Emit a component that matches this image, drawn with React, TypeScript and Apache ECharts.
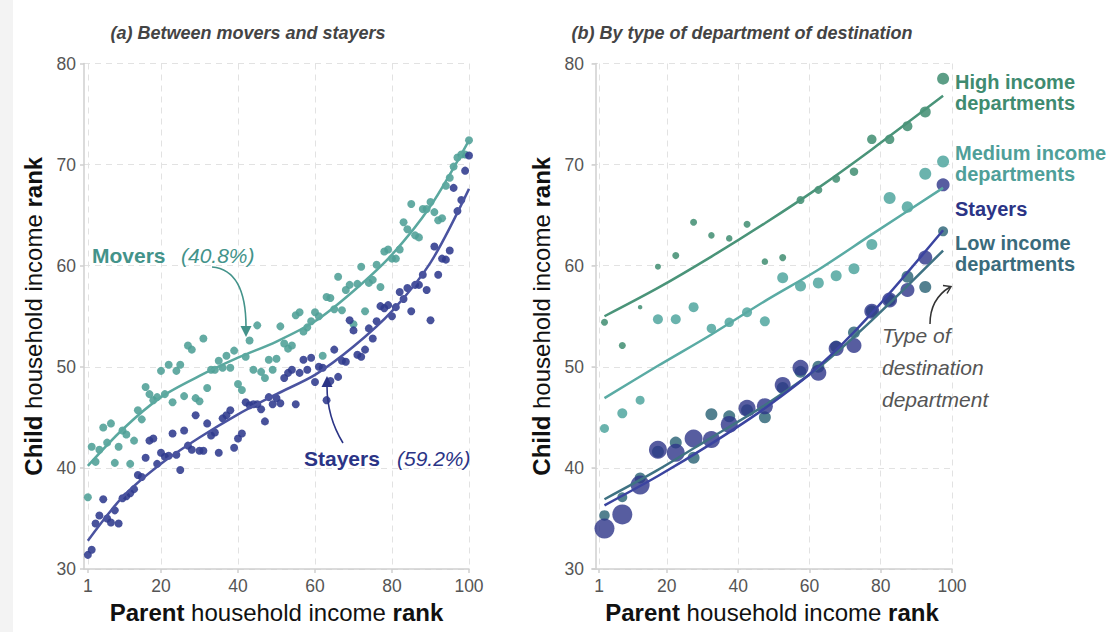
import React, { useEffect, useRef } from "react";
import * as echarts from "echarts";

// ---------- data ----------
const ranks = Array.from({ length: 100 }, (_, i) => i + 1);

const moversRank = [
  37.1, 42.1, 40.6, 41.8, 44.0, 42.5, 44.4, 40.5, 42.1, 43.7,
  43.3, 40.4, 42.7, 45.7, 44.8, 48.0, 47.3, 46.7, 47.0, 49.6,
  47.3, 50.2, 46.5, 49.6, 50.2, 47.1, 52.1, 51.7, 46.9, 46.6,
  52.8, 47.9, 49.7, 49.7, 50.6, 49.9, 51.1, 49.9, 51.6, 48.3,
  47.7, 51.0, 52.6, 49.7, 54.1, 49.5, 48.9, 50.7, 49.7, 50.8,
  54.0, 52.3, 51.8, 52.1, 55.1, 55.4, 53.5, 53.9, 54.5, 55.4,
  55.0, 51.1, 56.9, 56.8, 55.7, 58.9, 55.6, 57.6, 58.1, 54.2,
  58.2, 59.9, 55.5, 58.3, 58.6, 60.1, 57.9, 61.4, 61.6, 60.7,
  60.7, 61.6, 64.3, 63.6, 66.1, 63.0, 62.8, 65.6, 65.6, 66.3,
  65.3, 64.5, 64.7, 67.9, 68.7, 69.8, 70.7, 71.0, 71.0, 72.4,
];

const stayersRank = [
  31.4, 31.9, 34.5, 35.3, 36.9, 35.0, 34.6, 35.8, 34.5, 37.0,
  37.2, 37.5, 37.9, 39.3, 39.1, 41.0, 42.7, 42.9, 40.4, 41.5,
  41.1, 41.2, 43.4, 41.3, 39.8, 43.7, 42.2, 41.8, 45.2, 41.7,
  41.7, 44.4, 43.2, 43.5, 41.5, 44.9, 45.2, 45.7, 42.0, 42.9,
  43.4, 46.5, 46.2, 46.3, 46.3, 45.8, 44.6, 47.0, 46.3, 46.9,
  46.4, 48.9, 49.4, 49.7, 46.3, 49.4, 50.7, 49.7, 50.9, 48.5,
  50.0, 49.9, 46.7, 48.6, 51.7, 49.0, 50.6, 50.5, 54.6, 53.6,
  51.2, 51.0, 51.7, 53.8, 52.8, 54.5, 56.0, 55.8, 56.1, 55.0,
  55.9, 57.4, 56.7, 57.8, 55.5, 58.1, 58.1, 59.1, 57.6, 54.6,
  61.9, 59.1, 60.7, 60.6, 61.5, 67.7, 65.4, 66.5, 69.4, 70.9,
];

const fitX = [1, 10, 20, 30, 40, 50, 60, 70, 80, 90, 100];
const moversFit = [40.2, 43.8, 47.0, 49.1, 50.9, 52.5, 54.5, 57.5, 61.1, 65.9, 72.4];
const stayersFit = [32.8, 37.1, 40.4, 43.0, 45.3, 47.3, 49.2, 52.0, 55.5, 60.3, 67.6];

const ventiles = [2.5, 7.5, 12.5, 17.5, 22.5, 27.5, 32.5, 37.5, 42.5, 47.5,
  52.5, 57.5, 62.5, 67.5, 72.5, 77.5, 82.5, 87.5, 92.5, 97.5];

const highVals = [54.4, 52.1, 55.9, 59.9, 61.0, 64.3, 63.0, 62.7, 64.1, 60.4,
  60.8, 66.5, 67.5, 68.6, 69.3, 72.5, 72.5, 73.8, 75.2, 78.5];
const highSizes = [7, 7, 4.5, 6, 7, 7, 6.5, 6.5, 7, 6.5, 7, 8, 8, 8, 8.5, 9.5, 9.5, 10, 11, 12];

const medVals = [43.9, 45.4, 46.7, 54.7, 54.7, 55.9, 53.8, 54.4, 55.4, 54.5,
  58.8, 58.0, 58.3, 59.0, 59.7, 62.1, 66.7, 65.8, 69.1, 70.3];
const medSizes = [9, 10, 9, 10, 10, 10, 9.5, 9.5, 10, 10, 11, 11, 11, 11, 11, 11, 12, 11.5, 12, 12];

const lowVals = [35.3, 37.1, 39.0, 41.6, 42.5, 41.0, 45.3, 45.1, 45.7, 45.0,
  47.9, 49.5, 50.0, 52.0, 53.4, 55.5, 56.6, 58.9, 57.9, 63.4];
const lowSizes = [10.5, 10, 11, 12, 12, 12, 12, 12, 12, 12, 12, 12, 12, 12, 12, 12, 12, 12, 12, 10];

const stayVals = [34.0, 35.4, 38.3, 41.8, 41.5, 42.9, 42.8, 44.3, 45.9, 46.1,
  48.2, 49.9, 49.4, 51.8, 52.1, 55.5, 56.6, 57.6, 60.8, 68.0];
const staySizes = [20, 20, 19, 18, 18, 18, 17, 17, 17, 16, 16, 16, 16, 15, 15, 15, 15, 14, 14, 13];

const rFitX = [2.5, 17.5, 32.5, 47.5, 62.5, 77.5, 97.5];
const highFit = [55.0, 57.8, 60.9, 64.2, 67.7, 71.5, 76.8];
const medFit = [46.9, 50.1, 53.2, 56.5, 59.6, 63.1, 67.7];
const lowFit = [36.9, 39.8, 43.0, 46.2, 49.9, 54.6, 61.5];
const stayFit = [36.3, 39.2, 42.4, 45.9, 50.0, 55.3, 63.5];

const xTickValues = [1, 20, 40, 60, 80, 100];
const yTickMin = 30;
const yTickMax = 80;
const yTickStep = 10;

// ---------- styles ----------
const FONT = "'Liberation Sans', Arial, Helvetica, sans-serif";
const C_MOVERS = "#4f9f96";
const C_MOVERS_LINE = "#5aa89f";
const C_MOVERS_TEXT = "#43938a";
const C_STAY = "#2f3a8d";
const C_STAY_LINE = "#4a53a0";
const C_STAY_TEXT = "#2b3486";
const C_HIGH = "#4a9479";
const C_HIGH_TEXT = "#3f8b70";
const C_MED = "#5aaba4";
const C_MED_TEXT = "#4f9f99";
const C_LOW = "#3f7283";
const C_LOW_TEXT = "#3a6b7c";
const C_STAY_R = "#2d3588";
const C_STAY_R_LINE = "#3b44a0";

const zip = (xs: number[], ys: number[]) => xs.map((x, i) => [x, ys[i]]);
const zip3 = (xs: number[], ys: number[], ss: number[]) => xs.map((x, i) => [x, ys[i], ss[i]]);

const nameStyle = {
  fontSize: 24,
  color: "#111",
  fontFamily: FONT,
  rich: { b: { fontSize: 24, fontWeight: "bold", color: "#111", fontFamily: FONT } },
};

function makeXAxis(gridIndex: number, min: number) {
  return {
    type: "value",
    gridIndex,
    min,
    max: 100,
    axisLine: { show: true, lineStyle: { color: "#cfcfcf", width: 1.5 } },
    axisTick: { show: true, customValues: xTickValues, length: 4, lineStyle: { color: "#cfcfcf", width: 1.5 } },
    axisLabel: { customValues: xTickValues, fontSize: 17.5, color: "#555", margin: 8, fontFamily: FONT },
    splitLine: { show: true, lineStyle: { type: [6, 5], color: "#e2e2e2", width: 1 } },
    name: "{b|Parent} household income {b|rank}",
    nameLocation: "middle",
    nameGap: 31,
    nameTextStyle: nameStyle,
  };
}

function makeYAxis(gridIndex: number) {
  return {
    type: "value",
    gridIndex,
    min: yTickMin,
    max: yTickMax,
    interval: yTickStep,
    axisLine: { show: true, lineStyle: { color: "#cfcfcf", width: 1.5 } },
    axisTick: { show: true, length: 4, lineStyle: { color: "#cfcfcf", width: 1.5 } },
    axisLabel: { fontSize: 17.5, color: "#555", margin: 8, fontFamily: FONT },
    splitLine: { show: true, lineStyle: { type: [6, 5], color: "#e2e2e2", width: 1 } },
    name: "{b|Child} household income {b|rank}",
    nameLocation: "middle",
    nameRotate: 90,
    nameGap: 39,
    nameTextStyle: nameStyle,
  };
}

function txt(text: string, x: number, y: number, o: any = {}) {
  return {
    type: "text",
    x,
    y,
    z: 100,
    style: {
      text,
      fontFamily: FONT,
      fontSize: o.size ?? 21,
      fontWeight: o.weight ?? "normal",
      fontStyle: o.style ?? "normal",
      fill: o.color ?? "#333",
      align: o.align ?? "left",
      verticalAlign: o.valign ?? "middle",
      lineHeight: o.lineHeight,
    },
  };
}

function fitLine(xAxisIndex: number, xs: number[], ys: number[], color: string) {
  return {
    type: "line",
    xAxisIndex,
    yAxisIndex: xAxisIndex,
    smooth: 0.3,
    showSymbol: false,
    lineStyle: { color, width: 2.5 },
    data: zip(xs, ys),
    z: 3,
  };
}

function pointSeries(xAxisIndex: number, data: number[][], color: string, opacity: number, size?: number) {
  return {
    type: "scatter",
    xAxisIndex,
    yAxisIndex: xAxisIndex,
    symbolSize: size ?? ((v: number[]) => v[2]),
    itemStyle: { color, opacity },
    data,
    z: 2,
  };
}

export default function App() {
  const ref = useRef<HTMLDivElement>(null);

  useEffect(() => {
    if (!ref.current) return;
    const chart = echarts.init(ref.current, undefined, { renderer: "svg" });

    const option: any = {
      animation: false,
      backgroundColor: "#ffffff",
      grid: [
        { left: 84, top: 63.5, width: 385, height: 505.5 },
        { left: 592, top: 63.5, width: 360, height: 505.5 },
      ],
      xAxis: [makeXAxis(0, 0), makeXAxis(1, -1)],
      yAxis: [makeYAxis(0), makeYAxis(1)],
      series: [
        pointSeries(0, zip(ranks, moversRank), C_MOVERS, 0.88, 8),
        pointSeries(0, zip(ranks, stayersRank), C_STAY, 0.88, 8),
        fitLine(0, fitX, moversFit, C_MOVERS_LINE),
        fitLine(0, fitX, stayersFit, C_STAY_LINE),
        pointSeries(1, zip3(ventiles, highVals, highSizes), C_HIGH, 0.9),
        pointSeries(1, zip3(ventiles, medVals, medSizes), C_MED, 0.9),
        pointSeries(1, zip3(ventiles, lowVals, lowSizes), C_LOW, 0.9),
        pointSeries(1, zip3(ventiles, stayVals, staySizes), C_STAY_R, 0.8),
        fitLine(1, rFitX, highFit, C_HIGH),
        fitLine(1, rFitX, medFit, C_MED),
        fitLine(1, rFitX, lowFit, C_LOW),
        fitLine(1, rFitX, stayFit, C_STAY_R_LINE),
      ],
      graphic: [
        { type: "rect", shape: { x: 0, y: 0, width: 13, height: 632 }, style: { fill: "#f3f3f3" }, z: -10 },
        txt("(a) Between movers and stayers", 248, 33, { size: 18, weight: "bold", style: "italic", color: "#444", align: "center" }),
        txt("(b) By type of department of destination", 742, 33, { size: 18, weight: "bold", style: "italic", color: "#444", align: "center" }),
        // left annotations
        txt("Movers", 92, 255, { weight: "bold", color: C_MOVERS_TEXT }),
        txt("(40.8%)", 181, 255, { style: "italic", color: C_MOVERS_TEXT }),
        txt("Stayers", 304, 458, { weight: "bold", color: C_STAY_TEXT }),
        txt("(59.2%)", 397, 458, { style: "italic", color: C_STAY_TEXT }),
        {
          type: "bezierCurve", z: 100,
          shape: { x1: 212, y1: 267, cpx1: 246, cpy1: 270, x2: 246, y2: 327 },
          style: { stroke: C_MOVERS_TEXT, lineWidth: 1.6, fill: null },
        },
        {
          type: "polygon", z: 100,
          shape: { points: [[240.5, 326], [251.5, 326], [246, 337]] },
          style: { fill: C_MOVERS_TEXT },
        },
        {
          type: "bezierCurve", z: 100,
          shape: { x1: 343, y1: 443, cpx1: 327, cpy1: 417, x2: 327, y2: 386 },
          style: { stroke: C_STAY_TEXT, lineWidth: 1.6, fill: null },
        },
        {
          type: "polygon", z: 100,
          shape: { points: [[321.5, 387], [332.5, 387], [327, 376]] },
          style: { fill: C_STAY_TEXT },
        },
        // right annotations
        txt("High income\ndepartments", 955, 92, { size: 20, weight: "bold", color: C_HIGH_TEXT, lineHeight: 21 }),
        txt("Medium income\ndepartments", 955, 163, { size: 20, weight: "bold", color: C_MED_TEXT, lineHeight: 21 }),
        txt("Stayers", 955, 209, { size: 20, weight: "bold", color: C_STAY_TEXT }),
        txt("Low income\ndepartments", 955, 253, { size: 20, weight: "bold", color: C_LOW_TEXT, lineHeight: 21 }),
        txt("Type of\ndestination\ndepartment", 882, 367, { style: "italic", color: "#555", lineHeight: 32 }),
        {
          type: "bezierCurve", z: 100,
          shape: { x1: 930, y1: 324, cpx1: 930, cpy1: 299, x2: 950, y2: 287 },
          style: { stroke: "#333", lineWidth: 1.5, fill: null },
        },
        {
          type: "polyline", z: 100,
          shape: { points: [[943, 285.5], [951, 286.5], [947, 293.5]] },
          style: { stroke: "#333", lineWidth: 1.5, fill: null },
        },
      ],
    };

    chart.setOption(option);
    return () => chart.dispose();
  }, []);

  return (
    <div
      ref={ref}
      style={{ position: "fixed", left: 0, top: 0, width: 1120, height: 632, background: "#fff" }}
    />
  );
}
